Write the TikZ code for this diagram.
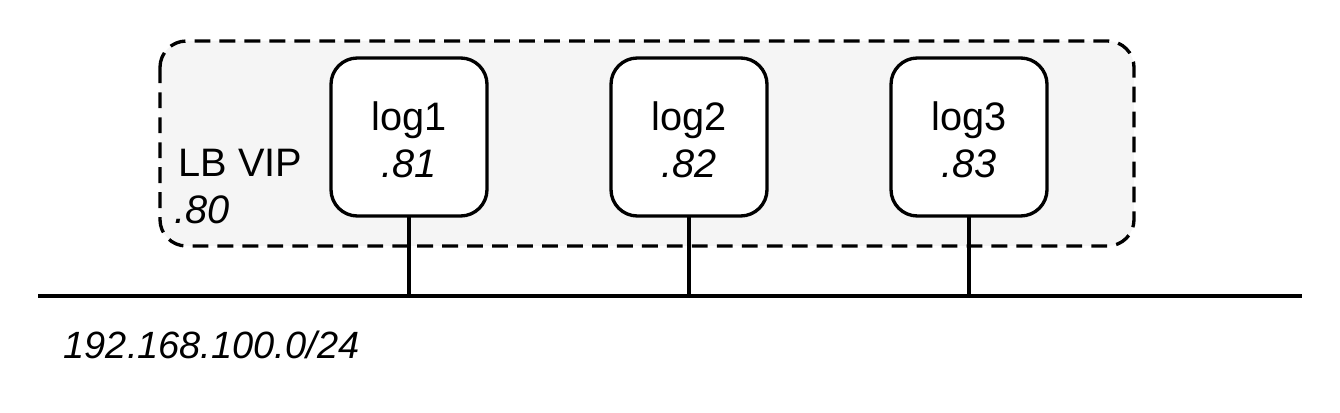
\documentclass[tikz,border=0pt]{standalone}
\usepackage{fontspec}
\setmainfont{Liberation Sans}
\begin{document}
\begin{tikzpicture}[x=0.01cm,y=-0.01cm,
  lbl/.style={font=\fontsize{11.3pt}{13pt}\selectfont,inner sep=0pt},
  ilbl/.style={font=\fontsize{11.3pt}{13pt}\selectfont\itshape,inner sep=0pt},
  wire/.style={line width=0.95pt}]
\useasboundingbox (0,0) rectangle (1340,413);
% dashed group
\draw[line width=0.95pt,dash pattern=on 4.5pt off 2.6pt,rounded corners=7.5pt,fill=black!4] (160,41) rectangle (1134,246);
\node[lbl,anchor=west] (lb) at (178,163) {LB VIP};
\node[ilbl,anchor=west] (lbip) at (174,210) {.80};
% boxes
\foreach \i/\x in {1/409,2/689,3/969}{
  \draw[line width=0.95pt,rounded corners=7.5pt,fill=white] (\x-78,58) rectangle (\x+78,216);
  \coordinate (b\i) at (\x,216);
  \node[lbl] (n\i) at (\x,120) {log\i};
  \node[ilbl] (ip\i) at (\x,164) {.8\i};
  \coordinate (t\i) at (\x,296);
  \draw[wire] (b\i) -- (t\i);
}
\coordinate (busl) at (38,296);
\coordinate (busr) at (1302,296);
\draw[wire] (busl) -- (busr);
\node[ilbl,anchor=west,font=\fontsize{10.8pt}{13pt}\selectfont\itshape] (net) at (63,345) {192.168.100.0/24};
\end{tikzpicture}
\end{document}
